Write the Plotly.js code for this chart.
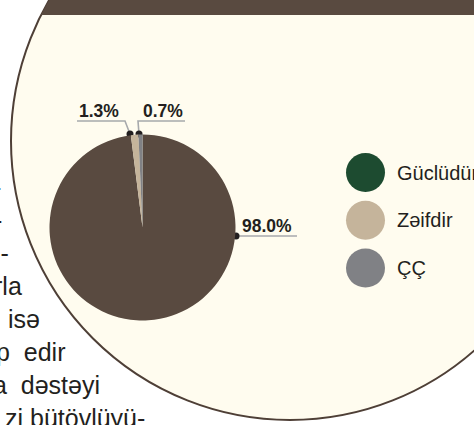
<!DOCTYPE html>
<html>
<head>
<meta charset="utf-8">
<script src="https://cdn.plot.ly/plotly-3.0.1.min.js"></script>
<style>
  html, body { margin: 0; padding: 0; background: #fff; }
  #myDiv { width: 474px; height: 425px; }
</style>
</head>
<body>
<div id="myDiv"></div>
<script>
// Chart data
const labels = ['Güclüdür', 'Zəifdir', 'ÇÇ'];
const values = [98.0, 1.3, 0.7];
const sliceColors = ['#594A40', '#C5B49B', '#808185'];
const legendColors = ['#1D4B30', '#C5B49B', '#808185'];

// page text that runs around the big circle (cut off by the picture)
const sideText = ['-', '-', 'l-', 'rla', 'isə', 'p  edir', 'a  dəstəyi', 'zi bütövlüyü-'];
const sideRight = [3, 4, 11, 24, 42, 67, 102, 147];

const W = 474, H = 425;
const ink = '#231F20';
const font = 'Liberation Sans, Arial, sans-serif';

// big cream circle behind the chart
const cx = 290, cy = 141, R = 279;
const barBottom = 15;

// dark band at the top, cut by the circle
const a0 = Math.asin((barBottom - cy) / R);
const pts = [];
for (let i = 0; i <= 60; i++) {
  const t = Math.PI - a0 + (Math.PI + 2 * a0) * i / 60;
  pts.push([cx + R * Math.cos(t), cy + R * Math.sin(t)]);
}
const bandPath = 'M' + pts.map(p => p[0].toFixed(1) + ',' + p[1].toFixed(1)).join('L') + 'Z';

// pie position (pixels)
const pcx = 142.5, pcy = 227.5, pr = 93;

// label layout: text position, underline, dot
const lab = [
  { tx: 267, ty: 226, ux0: 233, ux1: 297, uy: 236, bend: false, dot: [236, 236] },
  { tx: 99, ty: 111, ux0: 77, ux1: 125, uy: 121, bend: true, dot: [130, 134] },
  { tx: 163, ty: 111, ux0: 185, ux1: 138, uy: 121, bend: true, dot: [139, 134] },
];

const shapes = [
  { type: 'circle', xref: 'x', yref: 'y', x0: cx - R, x1: cx + R, y0: cy - R, y1: cy + R,
    fillcolor: '#FFFCEF', line: { color: '#4E3F36', width: 2 }, layer: 'below' },
  { type: 'path', xref: 'x', yref: 'y', path: bandPath, fillcolor: '#594A40',
    line: { width: 0 }, layer: 'below' },
];

const data = [];
const annotations = [];

// pie
data.push({
  type: 'pie',
  labels: labels,
  values: values,
  sort: false,
  direction: 'clockwise',
  rotation: 0,
  marker: { colors: sliceColors, line: { width: 0 } },
  textinfo: 'none',
  hoverinfo: 'label+percent',
  showlegend: false,
  domain: {
    x: [(pcx - pr) / W, (pcx + pr) / W],
    y: [(H - pcy - pr) / H, (H - pcy + pr) / H],
  },
});

// leader lines and dots
lab.forEach((l, i) => {
  const lx = [l.ux0, l.ux1];
  const ly = [l.uy, l.uy];
  if (l.bend) { lx.push(l.dot[0]); ly.push(l.dot[1]); }
  data.push({
    type: 'scatter', mode: 'lines', x: lx, y: ly,
    line: { color: '#A7A9AC', width: 1.6 }, hoverinfo: 'skip', showlegend: false,
  });
  data.push({
    type: 'scatter', mode: 'markers', x: [l.dot[0]], y: [l.dot[1]],
    marker: { color: ink, size: 7 }, hoverinfo: 'skip', showlegend: false,
  });
  annotations.push({
    xref: 'x', yref: 'y', x: l.tx, y: l.ty, text: '<b>' + values[i].toFixed(1) + '%</b>',
    showarrow: false, font: { family: font, size: 17.5, color: ink },
  });
});

// hand-made legend
const legX = 365.5, legY0 = 172.5, legStep = 47.8;
data.push({
  type: 'scatter', mode: 'markers',
  x: labels.map(() => legX),
  y: labels.map((_, i) => legY0 + i * legStep),
  marker: { color: legendColors, size: 39 },
  hoverinfo: 'skip', showlegend: false,
});
labels.forEach((lb, i) => {
  annotations.push({
    xref: 'x', yref: 'y', x: 395, y: legY0 + i * legStep, xanchor: 'left', text: lb,
    showarrow: false, font: { family: font, size: 20, color: ink },
  });
});

// side text fragments
sideText.forEach((t, i) => {
  annotations.push({
    xref: 'x', yref: 'y', x: sideRight[i], y: 187 + i * 33, xanchor: 'right', text: t,
    showarrow: false, font: { family: font, size: 25, color: ink },
  });
});
annotations.push({
  xref: 'x', yref: 'y', x: 422, y: 429, xanchor: 'left', text: 'da h',
  showarrow: false, font: { family: font, size: 25, color: ink },
});

const layout = {
  width: W, height: H,
  margin: { l: 0, r: 0, t: 0, b: 0 },
  paper_bgcolor: '#ffffff',
  plot_bgcolor: 'rgba(0,0,0,0)',
  xaxis: { range: [0, W], visible: false, fixedrange: true },
  yaxis: { range: [H, 0], visible: false, fixedrange: true },
  shapes: shapes,
  annotations: annotations,
  showlegend: false,
  hovermode: 'closest',
};

Plotly.newPlot('myDiv', data, layout, { displayModeBar: false });
</script>
</body>
</html>
